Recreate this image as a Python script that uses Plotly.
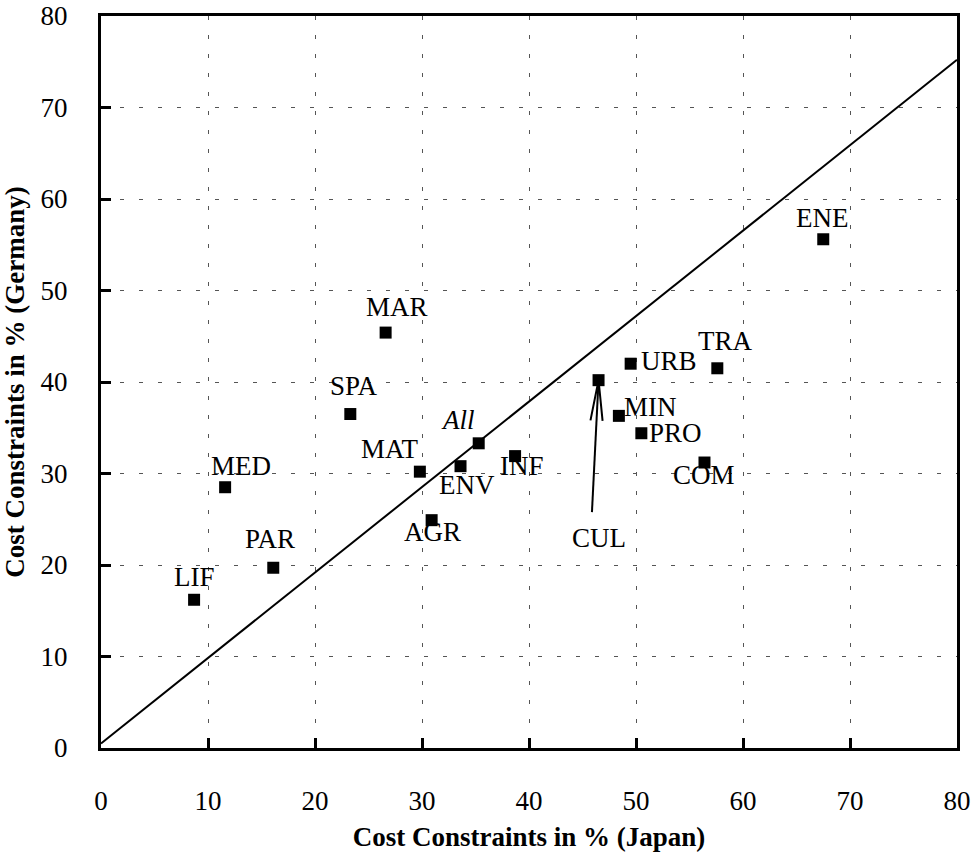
import math
import plotly.graph_objects as go

# Sector codes and their cost-constraint shares (%)
sectors = ["LIF", "PAR", "MED", "SPA", "MAR", "MAT", "All", "ENV", "INF", "AGR",
           "ENE", "TRA", "URB", "MIN", "PRO", "COM", "CUL"]
japan = [8.7, 16.1, 11.6, 23.3, 26.6, 29.8, 35.3, 33.6, 38.7, 30.9,
         67.5, 57.6, 49.5, 48.4, 50.5, 56.4, 46.5]
germany = [16.2, 19.7, 28.5, 36.5, 45.4, 30.2, 33.3, 30.8, 31.9, 24.9,
           55.6, 41.5, 42.0, 36.3, 34.4, 31.2, 40.2]

# Fitted line: germany = intercept + slope * japan
fit_intercept = 0.5
fit_slope = 0.934
fit_x = [0, 80]

# Label offsets from each marker in pixels (dx right, dy down)
label_offsets = {
    "LIF": (0, -23), "PAR": (-3, -29), "MED": (16, -21), "SPA": (4, -28),
    "MAR": (11, -26), "MAT": (-30, -23), "All": (-21, -23), "ENV": (6, 19),
    "INF": (7, 10), "AGR": (1, 12), "ENE": (-1, -21), "TRA": (8, -27),
    "URB": (38, -3), "MIN": (32, -9), "PRO": (34, 0), "COM": (0, 12),
    "CUL": (0, 158),
}

FONT = "Liberation Serif"
W, H = 975, 859
ML, MR, MT, MB = 101, 18, 16, 111
X_RANGE = [0, 80]
Y_RANGE = [0, 80]
px_x = (W - ML - MR) / (X_RANGE[1] - X_RANGE[0])
px_y = (H - MT - MB) / (Y_RANGE[1] - Y_RANGE[0])

fig = go.Figure()

# Regression line
fig.add_trace(go.Scatter(
    x=fit_x, y=[fit_intercept + fit_slope * v for v in fit_x],
    mode="lines", line=dict(color="black", width=2),
    hoverinfo="skip", showlegend=False,
))

# Sector markers
fig.add_trace(go.Scatter(
    x=japan, y=germany, mode="markers",
    marker=dict(symbol="square", size=12, color="black"),
    text=sectors, showlegend=False,
))

# Text labels
for name, xv, yv in zip(sectors, japan, germany):
    dx, dy = label_offsets[name]
    txt = "<i>All</i>" if name == "All" else name
    fig.add_annotation(
        x=xv, y=yv, text=txt, showarrow=False,
        xshift=dx, yshift=-dy,
        font=dict(family=FONT, size=27, color="black"),
    )

# Open arrow pointing from the CUL label to its marker
ci = sectors.index("CUL")
tip_x, tip_y = japan[ci], germany[ci]
tail_dx, tail_dy = -6.6, 132.0     # pixels, tail relative to tip (down positive)
barb_len, barb_ang = 41.0, math.radians(8.5)
L = math.hypot(tail_dx, tail_dy)
ux, uy = tail_dx / L, tail_dy / L


def to_data(dxp, dyp):
    return tip_x + dxp / px_x, tip_y - dyp / px_y


tail = to_data(tail_dx, tail_dy)
barbs = []
for s in (1, -1):
    c, sn = math.cos(s * barb_ang), math.sin(s * barb_ang)
    bx = (ux * c - uy * sn) * barb_len
    by = (ux * sn + uy * c) * barb_len
    barbs.append(to_data(bx, by))

fig.add_trace(go.Scatter(
    x=[tail[0], tip_x, None, barbs[0][0], tip_x, barbs[1][0]],
    y=[tail[1], tip_y, None, barbs[0][1], tip_y, barbs[1][1]],
    mode="lines", line=dict(color="black", width=2),
    hoverinfo="skip", showlegend=False,
))

axis_common = dict(
    showline=True, linecolor="black", linewidth=3, mirror=True,
    ticks="inside", ticklen=10, tickwidth=3, tickcolor="black",
    showgrid=True, gridcolor="#555555", gridwidth=1, griddash="4px,15px",
    zeroline=False, dtick=10, automargin=False,
    tickfont=dict(family=FONT, size=27, color="black"),
)

fig.update_layout(
    width=W, height=H,
    margin=dict(l=ML, r=MR, t=MT, b=MB),
    paper_bgcolor="white", plot_bgcolor="white",
    xaxis=dict(
        range=X_RANGE, ticklabelstandoff=27,
        title=dict(text="<b>Cost Constraints in % (Japan)</b>", standoff=12,
                   font=dict(family=FONT, size=27, color="black")),
        **axis_common,
    ),
    yaxis=dict(
        range=Y_RANGE, ticklabelstandoff=25,
        title=dict(text="<b>Cost Constraints in % (Germany)</b>", standoff=10,
                   font=dict(family=FONT, size=27, color="black")),
        **axis_common,
    ),
    font=dict(family=FONT, color="black"),
)

fig.write_html("out.html")
